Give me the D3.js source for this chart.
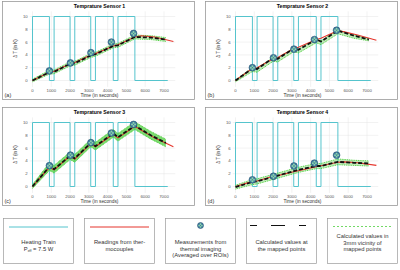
<!DOCTYPE html>
<html>
<head>
<meta charset="utf-8">
<script src="https://cdn.jsdelivr.net/npm/d3@7"></script>
<style>
  body { margin: 0; background: #fff; }
  svg { display: block; font-family: "Liberation Sans", Arial, sans-serif; }
  .grid line { stroke: #e4e4e4; stroke-width: 0.5; }
  .tick-label { fill: #555; font-size: 4.3px; }
</style>
</head>
<body>
<svg id="chart" width="400" height="270"></svg>
<script>
// ---- data ----
let titles = ["Temprature Sensor 1", "Temprature Sensor 2", "Temprature Sensor 3", "Temprature Sensor 4"];
let panelTags = ["(a)", "(b)", "(c)", "(d)"];
let xTicks = [0, 1000, 2000, 3000, 4000, 5000, 6000, 7000];
let yTicks = [0, 2, 4, 6, 8, 10];

// heating train (P_eff = 7.5 W), on/off switching times in seconds
let heatOn = [0, 1150, 2250, 3350, 4550];
let heatOff = [900, 2000, 3100, 4300, 5450];
let heatEnd = 7200;
let heatLevel = 10;

// thermocouple readings
let tcTimes = [0, 900, 1150, 2000, 2250, 3100, 3350, 4300, 4550, 5450, 5800, 6500, 7500];
let tc1 = [0, 1.3, 1.45, 2.6, 2.8, 4.0, 4.2, 5.4, 5.6, 6.8, 7.0, 6.8, 6.1];
let tc2 = [0, 1.9, 2.0, 3.4, 3.6, 5.0, 5.2, 6.4, 6.6, 7.8, 7.6, 7.1, 6.3];
let tc3 = [0, 3.0, 2.6, 4.8, 4.3, 6.7, 6.2, 8.2, 7.6, 9.4, 8.8, 7.6, 6.2];
let tc4 = [0, 0.8, 0.85, 1.6, 1.7, 2.3, 2.45, 3.1, 3.25, 3.8, 3.85, 3.7, 3.3];

// calculated values at the mapped points
let calcTimes = [0, 900, 1150, 2000, 2250, 3100, 3350, 4300, 4550, 5450, 6300, 7100];
let calc1 = [0, 1.3, 1.35, 2.6, 2.7, 3.9, 4.1, 5.4, 5.5, 6.8, 6.7, 6.4];
let calc2 = [0, 1.9, 1.8, 3.5, 3.4, 5.0, 4.8, 6.4, 6.1, 7.8, 7.0, 6.4];
let calc3 = [0, 3.1, 2.7, 4.8, 4.4, 6.8, 6.3, 8.3, 7.7, 9.5, 8.0, 6.8];
let calc4 = [-0.1, 0.7, 0.8, 1.5, 1.7, 2.4, 2.6, 3.2, 3.2, 3.85, 3.7, 3.6];

// calculated values in 3mm vicinity (lower / upper envelope)
let near1Lo = [-0.2, 1.0, 1.05, 2.3, 2.4, 3.6, 3.8, 5.1, 5.2, 6.5, 6.4, 6.1];
let near1Hi = [0.2, 1.6, 1.65, 2.9, 3.0, 4.2, 4.4, 5.7, 5.8, 7.1, 7.0, 6.7];
let near2Lo = [-0.2, 1.4, 1.3, 3.0, 2.9, 4.5, 4.3, 5.9, 5.6, 7.3, 6.6, 6.2];
let near2Hi = [0.1, 2.0, 1.9, 3.6, 3.5, 5.1, 4.9, 6.5, 6.2, 7.9, 7.1, 6.5];
let near3Lo = [-0.3, 2.5, 2.1, 4.2, 3.8, 6.2, 5.7, 7.7, 7.1, 8.9, 7.4, 6.2];
let near3Hi = [0.3, 3.7, 3.3, 5.4, 5.0, 7.4, 6.9, 8.9, 8.3, 10.1, 8.6, 7.4];
let near4Lo = [-0.4, 0.3, 0.4, 1.1, 1.3, 2.0, 2.2, 2.8, 2.8, 3.4, 3.3, 3.2];
let near4Hi = [0.2, 1.1, 1.2, 1.9, 2.1, 2.8, 3.0, 3.6, 3.6, 4.3, 4.1, 4.0];

// measurements from thermal imaging (averaged over ROIs)
let measTimes = [900, 2020, 3110, 4200, 5380];
let meas1 = [1.5, 2.75, 4.35, 6.0, 7.35];
let meas2 = [2.0, 3.55, 4.9, 6.4, 7.85];
let meas3 = [3.25, 4.9, 6.85, 8.35, 9.7];
let meas4 = [1.05, 1.6, 3.2, 3.65, 4.9];

let legendTexts = [
    ["Heating Train", "P_eff = 7.5 W"],
    ["Readings from ther-", "mocouples"],
    ["Measurements from", "thermal imaging", "(Averaged over ROIs)"],
    ["Calculated values at", "the mapped points"],
    ["Calculated values in", "3mm vicinity of", "mapped points"]
];

let colors = {heat: "#55c4cd", tc: "#e5352c", calc: "#111", near: "#4fcf3f", mark: "#3f7ca3"};

let sensors = [
    {tc: tc1, calc: calc1, lo: near1Lo, hi: near1Hi, meas: meas1},
    {tc: tc2, calc: calc2, lo: near2Lo, hi: near2Hi, meas: meas2},
    {tc: tc3, calc: calc3, lo: near3Lo, hi: near3Hi, meas: meas3},
    {tc: tc4, calc: calc4, lo: near4Lo, hi: near4Hi, meas: meas4}
];

let panelPos = [[2, 1], [205, 1], [2, 107], [205, 107]];
let panelW = 192, panelH = 98;

let svg = d3.select('#chart');

function marker(g, cx, cy, r) {
    g.append('circle').attr('cx', cx).attr('cy', cy).attr('r', r)
        .attr('fill', colors.mark).attr('stroke', '#2b5772').attr('stroke-width', 0.6);
    let d = r * 0.45;
    [[0, -d], [0, d], [-d, 0], [d, 0]].forEach(p => {
        g.append('circle').attr('cx', cx + p[0]).attr('cy', cy + p[1]).attr('r', r * 0.28)
            .attr('fill', '#8fd6a8');
    });
}

sensors.forEach((s, i) => {
    let [px, py] = panelPos[i];
    let panel = svg.append('g').attr('transform', 'translate(' + px + ',' + py + ')');

    panel.append('rect')
        .attr('x', 0.5).attr('y', 0.5)
        .attr('width', panelW).attr('height', panelH)
        .attr('fill', 'none').attr('stroke', '#9a9a9a').attr('stroke-width', 0.8);

    let xScale = d3.scaleLinear().domain([0, 7000]).range([30.5, 162]);
    let yScale = d3.scaleLinear().domain([0, 10]).range([79.5, 15.5]);
    let x0 = xScale(-150), x1 = xScale(7600);
    let y0 = yScale(-1), y1 = yScale(10.8);

    // grid
    let grid = panel.append('g').attr('class', 'grid');
    grid.selectAll('line.v').data(xTicks).enter().append('line')
        .attr('x1', d => xScale(d)).attr('x2', d => xScale(d))
        .attr('y1', y0).attr('y2', y1);
    grid.selectAll('line.h').data(yTicks).enter().append('line')
        .attr('y1', d => yScale(d)).attr('y2', d => yScale(d))
        .attr('x1', x0).attr('x2', x1);

    // tick labels
    panel.selectAll('text.xt').data(xTicks).enter().append('text')
        .attr('class', 'tick-label')
        .attr('x', d => xScale(d)).attr('y', y0 + 4.7)
        .attr('text-anchor', 'middle')
        .text(d => d);
    panel.selectAll('text.yt').data(yTicks).enter().append('text')
        .attr('class', 'tick-label')
        .attr('x', x0 - 2).attr('y', d => yScale(d) + 1.5)
        .attr('text-anchor', 'end')
        .text(d => d);

    // titles and labels
    panel.append('text')
        .attr('x', (x0 + x1) / 2 - 3).attr('y', 7)
        .attr('text-anchor', 'middle')
        .attr('font-size', 5.2).attr('font-weight', 'bold')
        .text(titles[i]);
    panel.append('text')
        .attr('x', (x0 + x1) / 2 - 3).attr('y', y0 + 10.3)
        .attr('text-anchor', 'middle')
        .attr('font-size', 4.8).attr('fill', '#333')
        .text('Time (in seconds)');
    panel.append('text')
        .attr('transform', 'translate(' + 14.5 + ',' + yScale(5) + ') rotate(-90)')
        .attr('text-anchor', 'middle')
        .attr('font-size', 4.5).attr('fill', '#333')
        .text('\u0394 T (in K)');
    panel.append('text')
        .attr('x', 2.5).attr('y', panelH - 2)
        .attr('font-size', 5.5).attr('fill', '#333')
        .text(panelTags[i]);

    // heating train
    let heatPts = [[0, 0]];
    heatOn.forEach((t, k) => {
        heatPts.push([t, heatLevel]);
        heatPts.push([heatOff[k], 0]);
    });
    heatPts.push([heatEnd, 0]);
    let stepLine = d3.line().x(d => xScale(d[0])).y(d => yScale(d[1])).curve(d3.curveStepAfter);
    panel.append('path')
        .attr('d', stepLine(heatPts))
        .attr('fill', 'none').attr('stroke', colors.heat).attr('stroke-width', 1);

    // 3mm vicinity band
    let area = d3.area()
        .x((d, k) => xScale(calcTimes[k]))
        .y0((d, k) => yScale(s.lo[k]))
        .y1((d, k) => yScale(s.hi[k]));
    panel.append('path')
        .attr('d', area(calcTimes))
        .attr('fill', colors.near).attr('opacity', i == 2 ? 0.75 : 0.35);
    let line = d3.line().x((d, k) => xScale(calcTimes[k])).y(d => yScale(d));
    [s.lo, s.hi].forEach(arr => {
        panel.append('path')
            .attr('d', line(arr))
            .attr('fill', 'none').attr('stroke', colors.near)
            .attr('stroke-width', 1).attr('stroke-dasharray', '1,0.8');
    });

    // thermocouple readings
    let tcLine = d3.line().x((d, k) => xScale(tcTimes[k])).y(d => yScale(d));
    panel.append('path')
        .attr('d', tcLine(s.tc))
        .attr('fill', 'none').attr('stroke', colors.tc).attr('stroke-width', 1.1);

    // calculated values at mapped points
    panel.append('path')
        .attr('d', line(s.calc))
        .attr('fill', 'none').attr('stroke', colors.calc)
        .attr('stroke-width', 1.8).attr('stroke-dasharray', '4,2');

    // thermal imaging measurements
    s.meas.forEach((v, k) => marker(panel, xScale(measTimes[k]), yScale(v), 3.4));
});

// ---- legend ----
let legend = svg.append('g').attr('font-size', 5.8).attr('fill', '#333');
legendTexts.forEach((lines, i) => {
    let bx = 3 + i * 81, by = 218, bw = 70, bh = 45;
    let g = legend.append('g').attr('transform', 'translate(' + bx + ',' + by + ')');
    g.append('rect').attr('x', 0.5).attr('y', 0.5).attr('width', bw).attr('height', bh)
        .attr('fill', 'none').attr('stroke', '#9a9a9a').attr('stroke-width', 0.7);
    let cx = bw / 2 + 0.5;
    if (i == 0) {
        g.append('line').attr('x1', 6).attr('x2', 65).attr('y1', 9).attr('y2', 9)
            .attr('stroke', colors.heat).attr('stroke-width', 1);
    } else if (i == 1) {
        g.append('line').attr('x1', 6).attr('x2', 65).attr('y1', 9).attr('y2', 9)
            .attr('stroke', colors.tc).attr('stroke-width', 1);
    } else if (i == 2) {
        marker(g, cx, 7.5, 3);
    } else if (i == 3) {
        g.append('line').attr('x1', 4).attr('x2', 66).attr('y1', 7.5).attr('y2', 7.5)
            .attr('stroke', colors.calc).attr('stroke-width', 1)
            .attr('stroke-dasharray', '7,14,14,14,7');
    } else {
        g.append('line').attr('x1', 6).attr('x2', 65).attr('y1', 8.5).attr('y2', 8.5)
            .attr('stroke', colors.near).attr('stroke-width', 0.8)
            .attr('stroke-dasharray', '2,2');
    }
    let startY = lines.length == 3 ? (i == 4 ? 20 : 26) : 26;
    lines.forEach((t, k) => {
        let txt = g.append('text')
            .attr('x', cx).attr('y', startY + k * 6.7)
            .attr('text-anchor', 'middle');
        if (t.startsWith('P_eff')) {
            txt.text('P');
            txt.append('tspan').attr('font-size', 3.5).attr('dy', 1).text('eff');
            txt.append('tspan').attr('dy', -1).text(' = 7.5 W');
        } else {
            txt.text(t);
        }
    });
});
</script>
</body>
</html>
